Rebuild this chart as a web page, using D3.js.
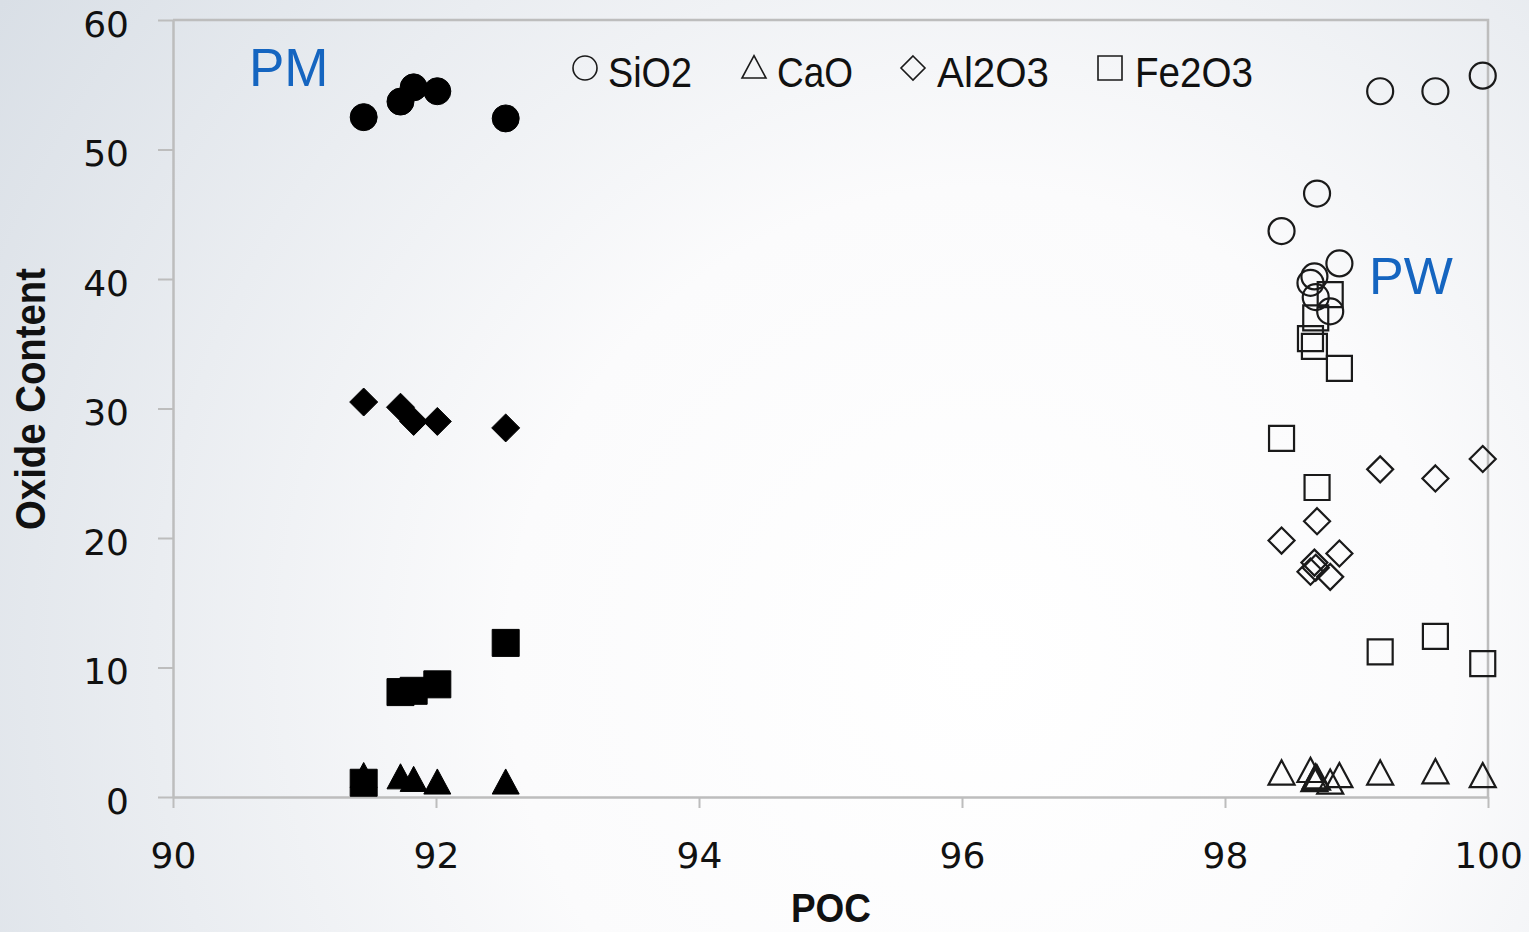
<!DOCTYPE html>
<html>
<head>
<meta charset="utf-8">
<script src="https://cdn.jsdelivr.net/npm/d3@7"></script>
<style>
  html, body { margin: 0; padding: 0; background: #fff; }
  svg { display: block; }
</style>
</head>
<body>
<svg id="chart" width="1529" height="932"></svg>
<script>
// Oxide content vs POC for PM (filled) and PW (open) samples
const pmPOC   = [91.45, 91.73, 91.83, 92.01, 92.53];
const pmSiO2  = [52.5, 53.7, 54.8, 54.5, 52.4];
const pmCaO   = [1.6, 1.5, 1.3, 1.1, 1.1];
const pmAl2O3 = [30.5, 30.1, 29.0, 29.0, 28.5];
const pmFe2O3 = [1.1, 8.1, 8.2, 8.7, 11.9];

const pwPOC   = [98.43, 98.65, 98.68, 98.69, 98.70, 98.80, 98.87, 99.18, 99.60, 99.96];
const pwSiO2  = [43.7, 39.7, 40.2, 38.6, 46.6, 37.5, 41.2, 54.5, 54.5, 55.7];
const pwCaO   = [1.8, 2.0, 1.3, 1.5, 1.4, 1.1, 1.6, 1.8, 1.9, 1.6];
const pwAl2O3 = [19.8, 17.4, 18.1, 17.7, 21.3, 17.0, 18.8, 25.3, 24.6, 26.1];
const pwFe2O3 = [27.7, 35.4, 34.8, 37.0, 23.9, 38.8, 33.1, 11.2, 12.4, 10.3];

const oxides = ["SiO2", "CaO", "Al2O3", "Fe2O3"];
const shapes = ["circle", "triangle", "diamond", "square"];
const xTicks = [90, 92, 94, 96, 98, 100];
const yTicks = [0, 10, 20, 30, 40, 50, 60];

const svg = d3.select("#chart");
const W = 1529, H = 932;

// soft background shading
const defs = svg.append("defs");
const grad = defs.append("radialGradient").attr("id", "bg")
  .attr("gradientUnits", "userSpaceOnUse")
  .attr("cx", 980).attr("cy", 660).attr("r", 1180);
grad.append("stop").attr("offset", "0%").attr("stop-color", "#ffffff");
grad.append("stop").attr("offset", "40%").attr("stop-color", "#fbfbfc");
grad.append("stop").attr("offset", "100%").attr("stop-color", "#d9dfe6");
svg.append("rect").attr("width", W).attr("height", H).attr("fill", "url(#bg)");

const x = d3.scaleLinear().domain([90, 100]).range([173, 1488]);
const y = d3.scaleLinear().domain([0, 60]).range([797, 20]);

const axisColor = "#bdbdbd";

// plot frame (top and right)
svg.append("path")
  .attr("d", `M${x(90)},${y(60)}H${x(100)}V${y(0)}`)
  .attr("fill", "none").attr("stroke", axisColor).attr("stroke-width", 2.5);

const tickFont = "'DejaVu Sans', sans-serif";

const yAxis = svg.append("g").attr("transform", `translate(${x(90)},0)`)
  .call(d3.axisLeft(y).tickValues(yTicks).tickSize(15).tickSizeOuter(0).tickPadding(29));
const xAxis = svg.append("g").attr("transform", `translate(0,${y(0)})`)
  .call(d3.axisBottom(x).tickValues(xTicks).tickSize(11).tickSizeOuter(0).tickPadding(34));

[yAxis, xAxis].forEach(g => {
  g.select(".domain").attr("stroke", axisColor).attr("stroke-width", 2.5);
  g.selectAll(".tick line").attr("stroke", axisColor).attr("stroke-width", 2);
  g.selectAll(".tick text").attr("fill", "#111").style("font-family", tickFont).style("font-size", "36px");
});
yAxis.selectAll(".tick text").attr("dy", "0.45em");
xAxis.selectAll(".tick text").attr("dy", "0.71em");

// axis titles (condensed to a narrow face)
const titleFont = "'Liberation Sans Narrow', 'Liberation Sans', sans-serif";
svg.append("text")
  .attr("transform", `translate(45,${399}) rotate(-90)`)
  .attr("text-anchor", "middle")
  .attr("textLength", 262).attr("lengthAdjust", "spacingAndGlyphs")
  .style("font-family", titleFont).style("font-weight", "bold").style("font-size", "43px")
  .attr("fill", "#111").text("Oxide Content");
svg.append("text")
  .attr("x", 831).attr("y", 922).attr("text-anchor", "middle")
  .attr("textLength", 80).attr("lengthAdjust", "spacingAndGlyphs")
  .style("font-family", titleFont).style("font-weight", "bold").style("font-size", "41px")
  .attr("fill", "#111").text("POC");

// marker path generator, s = overall width in px
function marker(shape, s) {
  const h = s / 2;
  switch (shape) {
    case "circle":
      return `M${-h},0A${h},${h} 0 1,0 ${h},0A${h},${h} 0 1,0 ${-h},0Z`;
    case "square":
      return `M${-h},${-h}H${h}V${h}H${-h}Z`;
    case "diamond":
      return `M0,${-h}L${h},0L0,${h}L${-h},0Z`;
    case "triangle": {
      const th = s * 0.93;
      return `M0,${-th * 0.55}L${h},${th * 0.45}L${-h},${th * 0.45}Z`;
    }
  }
}

const pmSeries = [pmSiO2, pmCaO, pmAl2O3, pmFe2O3];
const pwSeries = [pwSiO2, pwCaO, pwAl2O3, pwFe2O3];
const sizes = { circle: 27, triangle: 27, diamond: 28, square: 27 };
const openSizes = { circle: 26, triangle: 26, diamond: 26, square: 25 };

// PW samples: open markers
pwSeries.forEach((vals, i) => {
  const shape = shapes[i];
  svg.append("g").selectAll("path")
    .data(vals.map((v, j) => [pwPOC[j], v]))
    .join("path")
    .attr("transform", d => `translate(${x(d[0])},${y(d[1])})`)
    .attr("d", marker(shape, openSizes[shape]))
    .attr("fill", "none").attr("stroke", "#1a1a1a").attr("stroke-width", 2.2);
});

// PM samples: filled markers
pmSeries.forEach((vals, i) => {
  const shape = shapes[i];
  svg.append("g").selectAll("path")
    .data(vals.map((v, j) => [pmPOC[j], v]))
    .join("path")
    .attr("transform", d => `translate(${x(d[0])},${y(d[1])})`)
    .attr("d", marker(shape, sizes[shape]))
    .attr("fill", "#000").attr("stroke", "#000").attr("stroke-width", 1);
});

// group labels
const labelFont = "'Liberation Sans', Arial, sans-serif";
svg.append("text").attr("x", 249).attr("y", 86)
  .style("font-family", labelFont).style("font-size", "53px")
  .attr("fill", "#1565c0").text("PM");
svg.append("text").attr("x", 1369).attr("y", 294)
  .style("font-family", labelFont).style("font-size", "52px")
  .attr("fill", "#1565c0").text("PW");

// legend
const legendX = [585, 754, 913, 1110];
const legendTextX = [608, 777, 937, 1135];
const legendTextW = [84, 76, 112, 118];
const legend = svg.append("g");
oxides.forEach((name, i) => {
  legend.append("path")
    .attr("transform", `translate(${legendX[i]},68)`)
    .attr("d", marker(shapes[i], 24))
    .attr("fill", "none").attr("stroke", "#1a1a1a").attr("stroke-width", 1.6);
  legend.append("text")
    .attr("x", legendTextX[i]).attr("y", 87)
    .attr("textLength", legendTextW[i]).attr("lengthAdjust", "spacingAndGlyphs")
    .style("font-family", titleFont).style("font-size", "43px")
    .attr("fill", "#111").text(name);
});
</script>
</body>
</html>
